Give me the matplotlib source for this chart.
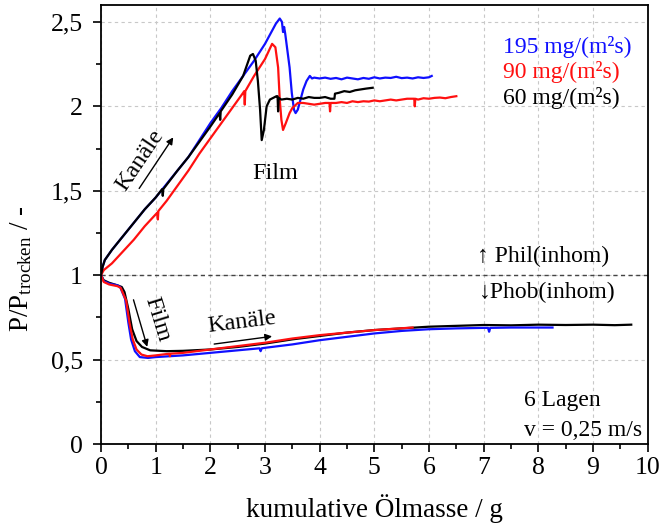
import matplotlib
matplotlib.use("Agg")
import matplotlib.pyplot as plt
from matplotlib.ticker import MultipleLocator, FuncFormatter

plt.rcParams['font.family'] = ['Liberation Serif', 'DejaVu Serif']
plt.rcParams['mathtext.fontset'] = 'custom'
plt.rcParams['mathtext.rm'] = 'Liberation Serif'
plt.rcParams['mathtext.it'] = 'Liberation Serif:italic'

# ---- data: pressure ratio vs. cumulative oil mass ----
# hydrophilic (inhomogeneous) media, upper branch
x_195_up = [0, 0.03, 0.07, 0.2, 0.4, 0.6, 0.8, 1.0, 1.2, 1.4, 1.6, 1.8, 2.0, 2.2, 2.4, 2.6,
            2.8, 3.0, 3.1, 3.2, 3.27, 3.31, 3.33, 3.35, 3.37, 3.41, 3.45, 3.49, 3.53, 3.56,
            3.6, 3.65, 3.7, 3.76, 3.82, 3.86, 3.9, 4.0, 4.1, 4.2, 4.3, 4.4, 4.5, 4.6, 4.7,
            4.8, 4.9, 5.0, 5.1, 5.2, 5.3, 5.4, 5.5, 5.6, 5.7, 5.8, 5.9, 6.0, 6.05]
y_195_up = [1.0, 1.05, 1.09, 1.15, 1.23, 1.31, 1.39, 1.46, 1.54, 1.62, 1.70, 1.80, 1.90, 1.99,
            2.09, 2.18, 2.27, 2.37, 2.43, 2.49, 2.52, 2.50, 2.44, 2.47, 2.43, 2.33, 2.23, 2.08,
            1.98, 1.96, 1.98, 2.04, 2.10, 2.15, 2.18, 2.165, 2.17, 2.165, 2.17, 2.163, 2.168,
            2.16, 2.17, 2.165, 2.16, 2.168, 2.163, 2.172, 2.165, 2.17, 2.168, 2.175, 2.167,
            2.17, 2.165, 2.172, 2.168, 2.172, 2.18]

x_90_up = [0, 0.05, 0.2, 0.4, 0.6, 0.8, 1.0, 1.03, 1.04, 1.05, 1.2, 1.4, 1.6, 1.8, 2.0, 2.2,
           2.4, 2.6, 2.62, 2.63, 2.64, 2.8, 3.0, 3.13, 3.19, 3.24, 3.27, 3.3, 3.33, 3.38, 3.45,
           3.5, 3.6, 3.7, 3.8, 3.9, 4.0, 4.1, 4.18, 4.19, 4.2, 4.3, 4.4, 4.5, 4.6, 4.7, 4.8,
           4.9, 5.0, 5.1, 5.2, 5.3, 5.4, 5.5, 5.6, 5.73, 5.74, 5.75, 5.8, 5.9, 6.0, 6.1, 6.2,
           6.3, 6.4, 6.5]
y_90_up = [1.0, 1.03, 1.07, 1.14, 1.21, 1.29, 1.36, 1.37, 1.33, 1.38, 1.44, 1.53, 1.62, 1.72,
           1.81, 1.90, 1.99, 2.08, 2.09, 2.01, 2.09, 2.18, 2.28, 2.37, 2.35, 2.23, 2.04, 1.92,
           1.86, 1.90, 1.96, 1.99, 2.02, 2.02, 2.015, 2.01, 2.015, 2.02, 2.02, 1.97, 2.02,
           2.02, 2.025, 2.02, 2.03, 2.025, 2.03, 2.028, 2.035, 2.03, 2.035, 2.04, 2.035, 2.04,
           2.045, 2.045, 2.0, 2.045, 2.04, 2.048, 2.045, 2.05, 2.052, 2.048, 2.055, 2.06]

x_60_up = [0, 0.03, 0.07, 0.2, 0.4, 0.6, 0.8, 1.0, 1.12, 1.13, 1.14, 1.4, 1.6, 1.8, 2.0,
           2.17, 2.18, 2.19, 2.4, 2.6, 2.73, 2.78, 2.83, 2.87, 2.91, 2.94, 2.98, 3.03, 3.09,
           3.15, 3.21, 3.23, 3.24, 3.25, 3.3, 3.4, 3.5, 3.6, 3.7, 3.8, 3.9, 4.0, 4.1, 4.2,
           4.27, 4.28, 4.35, 4.45, 4.55, 4.65, 4.75, 4.85, 4.97]
y_60_up = [1.0, 1.05, 1.09, 1.15, 1.23, 1.31, 1.39, 1.46, 1.51, 1.47, 1.51, 1.62, 1.70, 1.79,
           1.88, 1.96, 1.92, 1.97, 2.07, 2.18, 2.30, 2.31, 2.27, 2.15, 1.98, 1.80, 1.86,
           2.00, 2.04, 2.05, 2.06, 2.06, 1.97, 2.05, 2.04, 2.045, 2.04, 2.05, 2.045, 2.055,
           2.05, 2.05, 2.055, 2.045, 2.045, 2.075, 2.08, 2.09, 2.085, 2.095, 2.10, 2.105,
           2.11]

# hydrophobic (inhomogeneous) media, lower branch
x_60_lo = [0, 0.05, 0.15, 0.3, 0.38, 0.43, 0.5, 0.57, 0.65, 0.75, 0.9, 1.2, 1.5, 2.0, 2.5,
           3.0, 3.5, 4.0, 4.5, 5.0, 5.5, 6.0, 6.5, 7.0, 7.5, 8.0, 8.5, 9.0, 9.4, 9.7]
y_60_lo = [1.0, 0.97, 0.955, 0.94, 0.93, 0.90, 0.80, 0.68, 0.61, 0.575, 0.555, 0.55, 0.552,
           0.56, 0.575, 0.595, 0.62, 0.64, 0.66, 0.675, 0.685, 0.695, 0.70, 0.705, 0.703,
           0.707, 0.705, 0.707, 0.704, 0.707]

x_195_lo = [0, 0.05, 0.15, 0.3, 0.35, 0.44, 0.5, 0.55, 0.62, 0.71, 0.86, 1.0, 1.5, 2.0, 2.5,
            2.9, 2.92, 2.94, 3.0, 3.5, 4.0, 4.5, 5.0, 5.5, 6.0, 6.5, 7.0, 7.08, 7.1, 7.12, 7.5,
            8.0, 8.26]
y_195_lo = [1.0, 0.965, 0.95, 0.94, 0.93, 0.86, 0.72, 0.62, 0.55, 0.515, 0.51, 0.515, 0.525,
            0.54, 0.555, 0.567, 0.55, 0.567, 0.57, 0.59, 0.615, 0.635, 0.655, 0.67, 0.68,
            0.685, 0.688, 0.688, 0.665, 0.688, 0.69, 0.69, 0.69]

x_90_lo = [0, 0.05, 0.15, 0.3, 0.36, 0.46, 0.52, 0.58, 0.65, 0.74, 0.85, 1.0, 1.25, 1.26,
           1.27, 1.5, 2.0, 2.5, 3.0, 3.5, 4.0, 4.5, 5.0, 5.7]
y_90_lo = [1.0, 0.96, 0.945, 0.935, 0.925, 0.85, 0.72, 0.62, 0.56, 0.53, 0.52, 0.525, 0.535,
           0.52, 0.535, 0.54, 0.56, 0.58, 0.60, 0.625, 0.645, 0.66, 0.675, 0.69]

fig = plt.figure(figsize=(6.61, 5.28), dpi=100)
ax = fig.add_axes([0.1528, 0.159, 0.827, 0.8315])

lw = 1.6
ax.plot(x_60_lo, y_60_lo, color='black', lw=lw)
ax.plot(x_195_lo, y_195_lo, color='#1010ff', lw=lw)
ax.plot(x_90_lo, y_90_lo, color='#ff1010', lw=lw)
ax.plot(x_195_up, y_195_up, color='#1010ff', lw=lw)
ax.plot(x_90_up, y_90_up, color='#ff1010', lw=lw)
ax.plot(x_60_up, y_60_up, color='black', lw=lw)

ax.axhline(1.0, color='#444444', lw=1.0, ls=(0, (3, 2.5)), zorder=1)

ax.set_xlim(0, 10)
ax.set_ylim(0, 2.6)
ax.xaxis.set_major_locator(MultipleLocator(1))
ax.xaxis.set_minor_locator(MultipleLocator(0.5))
ax.yaxis.set_major_locator(MultipleLocator(0.5))
ax.yaxis.set_minor_locator(MultipleLocator(0.25))
ax.yaxis.set_major_formatter(FuncFormatter(lambda v, p: ('%g' % v).replace('.', ',')))
ax.grid(True, which='major', color='#c8c8c8', ls=(0, (3, 3)), lw=0.8)
ax.set_axisbelow(True)
ax.tick_params(which='major', direction='out', length=6, width=1.2, labelsize=18.5,
               top=False, right=False)
ax.tick_params(axis='x', which='major', pad=3)
ax.tick_params(axis='y', which='major', pad=7)
ax.tick_params(which='minor', direction='out', length=3.5, width=1.2, top=False, right=False)
for s in ax.spines.values():
    s.set_linewidth(1.3)

ax.set_xlabel('kumulative Ölmasse / g', fontsize=19.5, labelpad=11)
ax.set_ylabel(r'P/P$_{\mathrm{trocken}}$ / -', fontsize=19.5)
ax.yaxis.set_label_coords(-0.122, 0.40)

# series labels
ax.text(0.735, 0.904, '195 mg/(m²s)', color='#1010ff', fontsize=17, transform=ax.transAxes,
        va='center', ha='left')
ax.text(0.735, 0.847, '90 mg/(m²s)', color='#ff1010', fontsize=17, transform=ax.transAxes,
        va='center', ha='left')
ax.text(0.735, 0.788, '60 mg/(m²s)', color='black', fontsize=17, transform=ax.transAxes,
        va='center', ha='left')

# annotations
ax.text(0.72, 1.68, 'Kanäle', fontsize=17.5, rotation=56, ha='center', va='center',
        rotation_mode='anchor')
ax.annotate('', xy=(1.35, 1.83), xytext=(0.67, 1.5),
            arrowprops=dict(arrowstyle='-|>', color='black', lw=1.0, mutation_scale=10))
ax.text(3.18, 1.6, 'Film', fontsize=17.5, ha='center', va='center')
ax.text(1.02, 0.74, 'Film', fontsize=17.5, rotation=-73, ha='center', va='center',
        rotation_mode='anchor')
ax.annotate('', xy=(0.86, 0.56), xytext=(0.58, 0.87),
            arrowprops=dict(arrowstyle='-|>', color='black', lw=1.0, mutation_scale=10))
ax.text(2.58, 0.72, 'Kanäle', fontsize=17.5, rotation=7, ha='center', va='center',
        rotation_mode='anchor')
ax.annotate('', xy=(3.18, 0.64), xytext=(2.02, 0.59),
            arrowprops=dict(arrowstyle='-|>', color='black', lw=1.0, mutation_scale=10))

ax.text(8.08, 1.108, '↑ Phil(inhom)', fontsize=17, ha='center', va='center')
ax.text(8.17, 0.895, '↓Phob(inhom)', fontsize=17, ha='center', va='center')

ax.text(7.73, 0.26, '6 Lagen', fontsize=17, ha='left', va='center')
ax.text(7.73, 0.083, 'v = 0,25 m/s', fontsize=17, ha='left', va='center')

fig.savefig('out.png', dpi=100)
